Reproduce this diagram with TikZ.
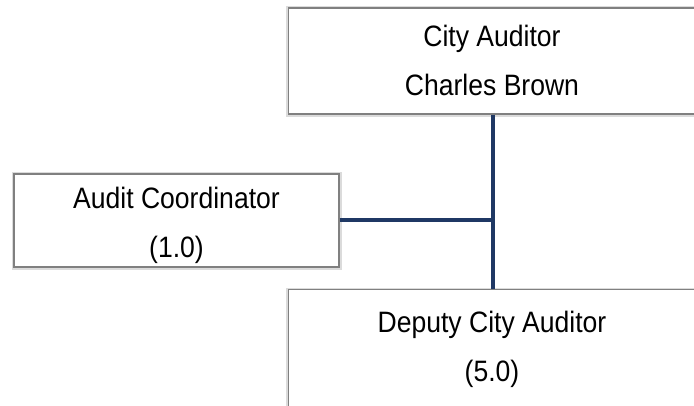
\documentclass[tikz,border=0pt]{standalone}
\usepackage{fontspec}
\setmainfont{Liberation Sans}[FakeStretch=0.9]
\definecolor{navy}{RGB}{31,56,100}
\begin{document}
\begin{tikzpicture}[x=1pt,y=-1pt,
  box/.style={draw=black!50, line width=1.2pt, fill=white, rectangle, inner sep=0pt,
    preaction={draw=black!14, line width=5pt, transform canvas={yshift=-1pt}}},
  lbl/.style={align=center, inner sep=0pt, font=\fontsize{29.5}{49}\selectfont},
  link/.style={draw=navy, line width=4pt}]
\useasboundingbox (0,0) rectangle (694,406);
% boxes
\node[box, minimum width=408pt, minimum height=106pt] (auditor) at (492.5,61) {};
\node[box, minimum width=325pt, minimum height=93pt] (coord) at (176.5,220.5) {};
\node[box, minimum width=408pt, minimum height=140pt, anchor=north] (deputy) at (492.5,289) {};
% texts
\node[lbl] (auditorTxt) at (492,60.5) {City Auditor\\Charles Brown};
\node[lbl] (coordTxt) at (176.5,225) {Audit Coordinator\\(1.0)};
\node[lbl] (deputyTxt) at (492,349.5) {Deputy City Auditor\\(5.0)};
% connectors
\draw[link] (auditor.south) -- (deputy.north);
\draw[link] (coord.east) -- (coord.east -| auditor.south);
\end{tikzpicture}
\end{document}
